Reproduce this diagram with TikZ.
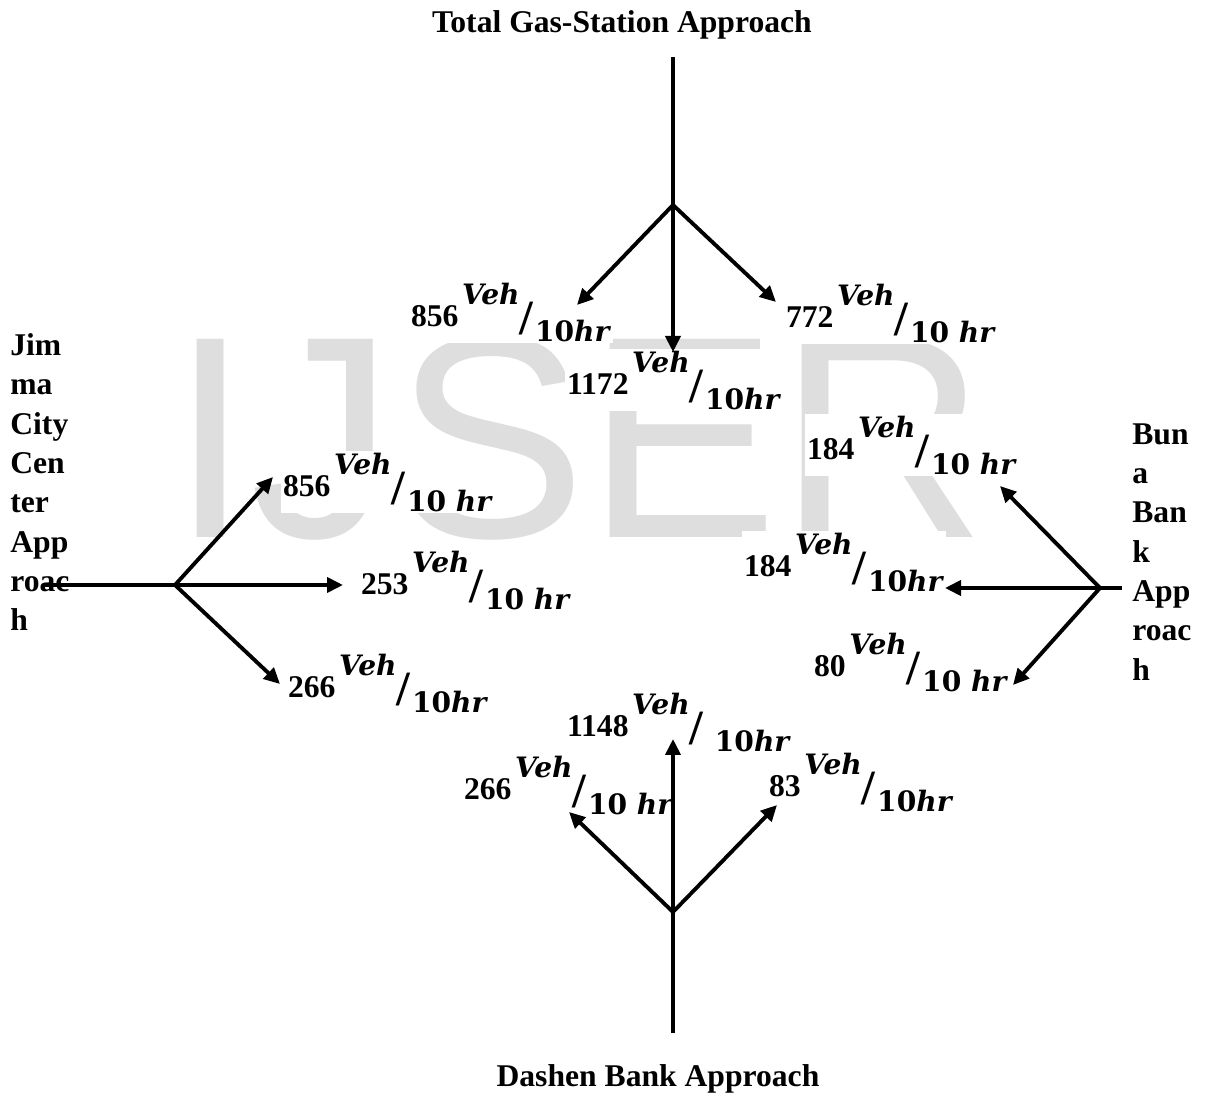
\documentclass[tikz,border=0pt]{standalone}
\usepackage{fontspec}
\setmainfont{Liberation Serif}
\newfontfamily\wmfont{Liberation Sans}
\newfontfamily\unitfont{DejaVu Serif}
\usepackage{tikz}
\usetikzlibrary{arrows.meta}
\definecolor{wmGray}{HTML}{DEDEDE}
% flow label: number, then Veh over 10hr written in line
\newcommand{\rate}[2]{#1\hspace{2pt}\raisebox{13pt}{\unitfont\fontsize{16}{16}\selectfont\textit{Veh}}\raisebox{-4.5pt}{\fontsize{28}{28}\selectfont/}\hspace{1pt}\raisebox{-8pt}{\unitfont\fontsize{16}{16}\selectfont #2}}
\tikzset{
  flowArrow/.style={
    -{Triangle[length=3.2mm,width=3mm]},
    line width=2.2pt
  },
  roadLine/.style={
    line width=2.2pt
  },
  rateLabel/.style={
    anchor=base west,
    fill=white,
    inner sep=1pt,
    font=\bfseries\fontsize{18}{21}\selectfont
  },
  approachText/.style={
    anchor=north west,
    inner sep=0pt,
    align=left,
    font=\bfseries\fontsize{18}{22.4}\selectfont
  },
  titleText/.style={
    anchor=base,
    inner sep=0pt,
    font=\bfseries\fontsize{18}{21}\selectfont
  },
  watermarkText/.style={
    anchor=base west,
    inner sep=0pt,
    text=wmGray,
    font=\wmfont\fontsize{164}{164}\selectfont
  }
}
\begin{document}
\begin{tikzpicture}[x=0.02cm,y=-0.02cm]
        \useasboundingbox (0,0) rectangle (1205,1097);
        \node[watermarkText] (mark) at (170,538) {IJSER};

        % approach names
        \node[titleText] (gasTitle) at (622,33) {Total Gas-Station Approach};
        \node[titleText] (dashenTitle) at (658,1087) {Dashen Bank Approach};
        \node[approachText] (jimmaText) at (10,333) {Jim\\ma\\City\\Cen\\ter\\App\\roac\\h};
        \node[approachText] (bunaText) at (1132,423) {Bun\\a\\Ban\\k\\App\\roac\\h};

        % flow values
        \node[rateLabel] (gsLeftLbl) at (409,327) {\rate{856}{10\textit{hr}}};
        \node[rateLabel] (gsThruLbl) at (565,395) {\rate{1172}{10\textit{hr}}};
        \node[rateLabel] (gsRightLbl) at (784,328) {\rate{772}{10 \textit{hr}}};
        \node[rateLabel] (jcLeftLbl) at (281,497) {\rate{856}{10 \textit{hr}}};
        \node[rateLabel] (jcThruLbl) at (359,595) {\rate{253}{10 \textit{hr}}};
        \node[rateLabel] (jcRightLbl) at (286,698) {\rate{266}{10\textit{hr}}};
        \node[rateLabel] (bbRightLbl) at (805,460) {\rate{184}{10 \textit{hr}}};
        \node[rateLabel] (bbThruLbl) at (742,577) {\rate{184}{10\textit{hr}}};
        \node[rateLabel] (bbLeftLbl) at (812,677) {\rate{80}{10 \textit{hr}}};
        \node[rateLabel] (dbThruLbl) at (565,737) {\rate{1148}{\ 10\textit{hr}}};
        \node[rateLabel] (dbLeftLbl) at (462,800) {\rate{266}{10 \textit{hr}}};
        \node[rateLabel] (dbRightLbl) at (767,797) {\rate{83}{10\textit{hr}}};

        % Total Gas-Station approach
        \coordinate (gsIn) at (673,57);
        \coordinate (gsJ) at (673,205);
        \coordinate (gsLeft) at (577,305);
        \coordinate (gsThru) at (673,352);
        \coordinate (gsRight) at (776,302);
        \draw[roadLine] (gsIn) -- (gsJ);
        \draw[flowArrow] (gsJ) -- (gsLeft);
        \draw[flowArrow] (gsJ) -- (gsThru);
        \draw[flowArrow] (gsJ) -- (gsRight);

        % Jimma City Center approach
        \coordinate (jcIn) at (45,585);
        \coordinate (jcJ) at (175,585);
        \coordinate (jcLeft) at (273,477);
        \coordinate (jcThru) at (343,585);
        \coordinate (jcRight) at (280,684);
        \draw[roadLine] (jcIn) -- (jcJ);
        \draw[flowArrow] (jcJ) -- (jcLeft);
        \draw[flowArrow] (jcJ) -- (jcThru);
        \draw[flowArrow] (jcJ) -- (jcRight);

        % Buna Bank approach
        \coordinate (bbIn) at (1122,588);
        \coordinate (bbJ) at (1100,588);
        \coordinate (bbRight) at (1000,486);
        \coordinate (bbThru) at (945,588);
        \coordinate (bbLeft) at (1013,685);
        \draw[roadLine] (bbIn) -- (bbJ);
        \draw[flowArrow] (bbJ) -- (bbRight);
        \draw[flowArrow] (bbJ) -- (bbThru);
        \draw[flowArrow] (bbJ) -- (bbLeft);

        % Dashen Bank approach
        \coordinate (dbIn) at (673,1033);
        \coordinate (dbJ) at (673,912);
        \coordinate (dbThru) at (673,739);
        \coordinate (dbLeft) at (569,812);
        \coordinate (dbRight) at (777,805);
        \draw[roadLine] (dbIn) -- (dbJ);
        \draw[flowArrow] (dbJ) -- (dbThru);
        \draw[flowArrow] (dbJ) -- (dbLeft);
        \draw[flowArrow] (dbJ) -- (dbRight);
    \end{tikzpicture}
\end{document}
